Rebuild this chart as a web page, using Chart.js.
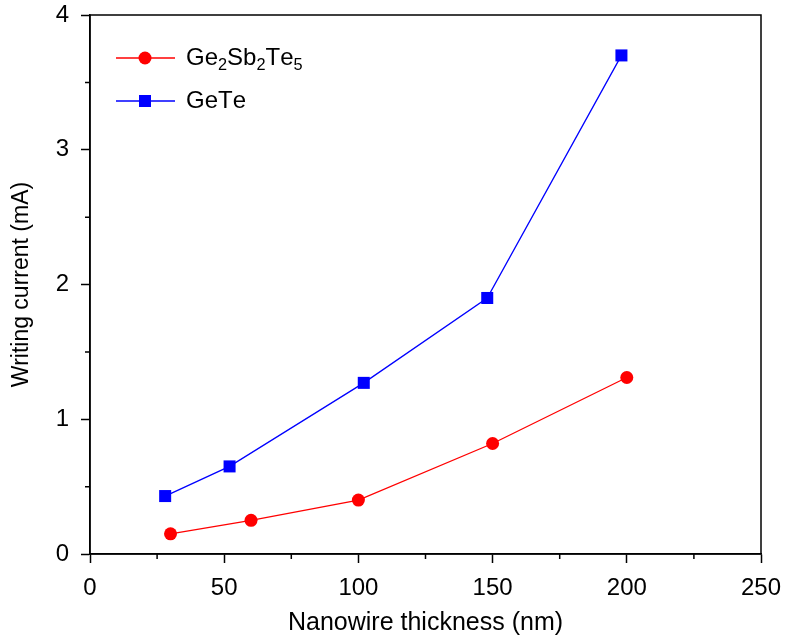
<!DOCTYPE html>
<html>
<head>
<meta charset="utf-8">
<script src="https://cdn.jsdelivr.net/npm/chart.js@4"></script>
<style>
  html, body { margin: 0; padding: 0; background: #fff; }
  #wrap { width: 786px; height: 639px; }
</style>
</head>
<body>
<div id="wrap"><canvas id="currentChart"></canvas></div>
<script>
// values
const gstThickness = [30, 60, 100, 150, 200];
const gstCurrent = [0.15, 0.25, 0.40, 0.82, 1.31];
const geteThickness = [28, 52, 102, 148, 198];
const geteCurrent = [0.43, 0.65, 1.27, 1.90, 3.70];
const xTicks = [0, 50, 100, 150, 200, 250];
const yTicks = [0, 1, 2, 3, 4];

const FONT = '"Liberation Sans", Arial, sans-serif';

function toPoints(xs, ys) {
    return xs.map((x, i) => ({ x: x, y: ys[i] }));
}

// draws text where digits become subscripts (Ge2Sb2Te5)
function drawChemLabel(ctx, text, x, y, size) {
    let cx = x;
    for (const ch of text) {
        const sub = /[0-9]/.test(ch);
        ctx.font = (sub ? size * 0.68 : size) + 'px ' + FONT;
        ctx.fillText(ch, cx, sub ? y + size * 0.3 : y);
        cx += ctx.measureText(ch).width;
    }
}

// box frame, minor ticks and legend
const framePlugin = {
    id: 'frame',
    afterDraw(chart) {
        const ctx = chart.ctx;
        const a = chart.chartArea;
        const xs = chart.scales.x, ys = chart.scales.y;
        ctx.save();
        ctx.strokeStyle = '#000';
        ctx.lineWidth = 1.5;
        ctx.strokeRect(a.left, a.top, a.right - a.left, a.bottom - a.top);

        // minor ticks
        ctx.beginPath();
        for (let v = 25; v < 250; v += 50) {
            const px = xs.getPixelForValue(v);
            ctx.moveTo(px, a.bottom);
            ctx.lineTo(px, a.bottom + 5);
        }
        for (let v = 0.5; v < 4; v += 1) {
            const py = ys.getPixelForValue(v);
            ctx.moveTo(a.left, py);
            ctx.lineTo(a.left - 5, py);
        }
        ctx.stroke();

        // legend
        ctx.textBaseline = 'middle';
        chart.data.datasets.forEach((ds, i) => {
            const y = 58 + i * 43;
            ctx.strokeStyle = ds.borderColor;
            ctx.lineWidth = 1.3;
            ctx.beginPath();
            ctx.moveTo(116, y);
            ctx.lineTo(175, y);
            ctx.stroke();
            ctx.fillStyle = ds.pointBackgroundColor;
            Chart.helpers.drawPoint(ctx, {
                pointStyle: ds.pointStyle,
                radius: ds.pointRadius,
                rotation: 0,
                borderWidth: 0
            }, 145, y);
            ctx.fillStyle = '#000';
            drawChemLabel(ctx, ds.label, 186, y, 24);
        });
        ctx.restore();
    }
};

const ctx = document.getElementById('currentChart').getContext('2d');
new Chart(ctx, {
    type: 'scatter',
    data: {
        datasets: [{
            label: 'Ge2Sb2Te5',
            data: toPoints(gstThickness, gstCurrent),
            showLine: true,
            borderColor: '#ff0000',
            borderWidth: 1.3,
            pointStyle: 'circle',
            pointRadius: 6.5,
            pointBackgroundColor: '#ff0000',
            pointBorderColor: '#ff0000',
            pointBorderWidth: 0
        }, {
            label: 'GeTe',
            data: toPoints(geteThickness, geteCurrent),
            showLine: true,
            borderColor: '#0000ff',
            borderWidth: 1.3,
            pointStyle: 'rect',
            pointRadius: 8.5,
            pointBackgroundColor: '#0000ff',
            pointBorderColor: '#0000ff',
            pointBorderWidth: 0
        }]
    },
    options: {
        responsive: true,
        maintainAspectRatio: false,
        animation: false,
        layout: {
            padding: { top: 15, right: 25, bottom: 0, left: 0 }
        },
        plugins: {
            legend: { display: false },
            tooltip: { enabled: false }
        },
        scales: {
            x: {
                type: 'linear',
                min: 0,
                max: 250,
                afterBuildTicks: s => { s.ticks = xTicks.map(v => ({ value: v })); },
                afterFit: s => { s.height = 85; s.paddingLeft = 0; s.paddingRight = 0; },
                grid: {
                    drawOnChartArea: false,
                    tickLength: 9,
                    tickColor: '#000',
                    tickWidth: 1.5
                },
                border: { color: '#000', width: 1.5 },
                ticks: {
                    color: '#000',
                    padding: 11,
                    font: { family: FONT, size: 24 }
                },
                title: {
                    display: true,
                    text: 'Nanowire thickness (nm)',
                    color: '#000',
                    padding: { top: 0, bottom: 1 },
                    font: { family: FONT, size: 25 }
                }
            },
            y: {
                type: 'linear',
                min: 0,
                max: 4,
                afterBuildTicks: s => { s.ticks = yTicks.map(v => ({ value: v })); },
                afterFit: s => { s.width = 90; s.paddingTop = 0; s.paddingBottom = 0; },
                grid: {
                    drawOnChartArea: false,
                    tickLength: 9,
                    tickColor: '#000',
                    tickWidth: 1.5
                },
                border: { color: '#000', width: 1.5 },
                ticks: {
                    color: '#000',
                    padding: 12,
                    font: { family: FONT, size: 24 }
                },
                title: {
                    display: true,
                    text: 'Writing current (mA)',
                    color: '#000',
                    padding: { top: 8, bottom: 0 },
                    font: { family: FONT, size: 23 }
                }
            }
        }
    },
    plugins: [framePlugin]
});
</script>
</body>
</html>
